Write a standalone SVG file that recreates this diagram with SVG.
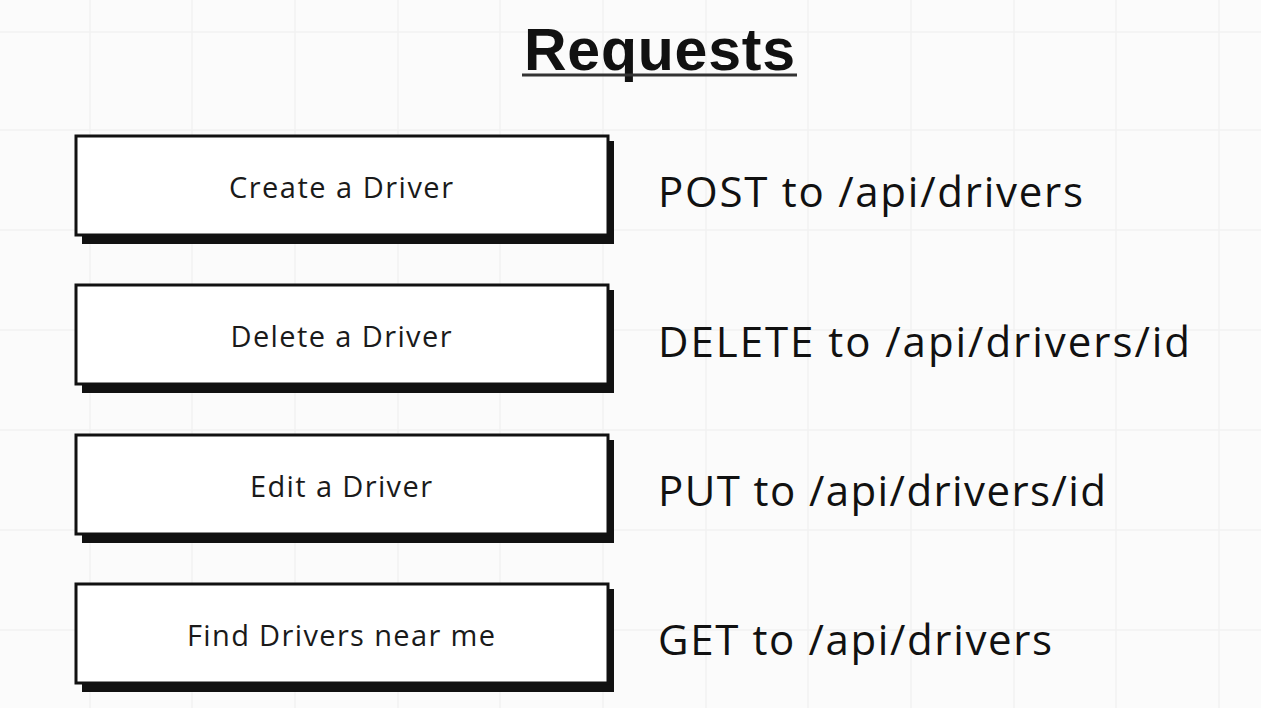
<svg xmlns="http://www.w3.org/2000/svg" width="1261" height="708" viewBox="0 0 1261 708">
<defs>
<style>
.bg{fill:#fbfbfb}
.grid{stroke:#f2f2f2;stroke-width:1.5;fill:none}
.shadow{fill:#111}
.box{fill:#fff;stroke:#111;stroke-width:3}
.lbl{font-family:"Open Sans","Liberation Sans",sans-serif;font-size:29px;fill:#1a1a1a;text-anchor:middle}
.req{font-family:"Open Sans","Liberation Sans",sans-serif;font-size:42px;fill:#111}
.title{font-family:"Liberation Sans","Open Sans",sans-serif;font-size:59px;font-weight:bold;fill:#111}
</style>
</defs>
<rect class="bg" x="0" y="0" width="1261" height="708"/>
<g id="grid">
<path class="grid" d="M90 0V708M192 0V708M295 0V708M398 0V708M500 0V708M603 0V708M706 0V708M808 0V708M911 0V708M1014 0V708M1116 0V708M1219 0V708M0 32H1261M0 130H1261M0 230H1261M0 330H1261M0 430H1261M0 530H1261M0 630H1261"/>
</g>
<g id="title">
<text class="title" x="524" y="70" textLength="271">Requests</text>
<line x1="522" y1="75" x2="797" y2="75" stroke="#333" stroke-width="3"/>
</g>
<g id="node-create">
<rect class="shadow" x="82" y="141" width="532" height="103"/>
<rect class="box" x="76" y="136" width="532" height="99"/>
<text class="lbl" x="341" y="198" textLength="224">Create a Driver</text>
</g>
<g id="node-delete">
<rect class="shadow" x="82" y="290" width="532" height="103"/>
<rect class="box" x="76" y="285" width="532" height="99"/>
<text class="lbl" x="341" y="347" textLength="221">Delete a Driver</text>
</g>
<g id="node-edit">
<rect class="shadow" x="82" y="440" width="532" height="103"/>
<rect class="box" x="76" y="435" width="532" height="99"/>
<text class="lbl" x="341" y="497" textLength="182">Edit a Driver</text>
</g>
<g id="node-find">
<rect class="shadow" x="82" y="589" width="532" height="103"/>
<rect class="box" x="76" y="584" width="532" height="99"/>
<text class="lbl" x="341" y="646" textLength="308">Find Drivers near me</text>
</g>
<g id="connectors"></g>
<g id="labels">
<text class="req" x="658" y="207" textLength="425">POST to /api/drivers</text>
<text class="req" x="658" y="357" textLength="532">DELETE to /api/drivers/id</text>
<text class="req" x="658" y="506" textLength="448">PUT to /api/drivers/id</text>
<text class="req" x="658" y="655" textLength="394">GET to /api/drivers</text>
</g>
</svg>
